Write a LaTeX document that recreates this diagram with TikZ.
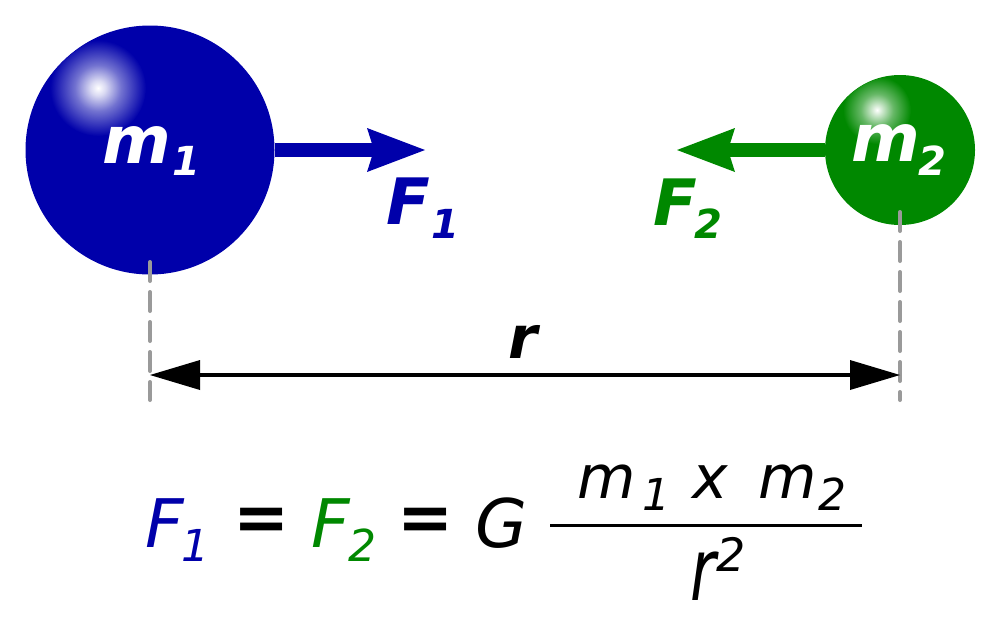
\documentclass[tikz,border=0pt]{standalone}
\usepackage{fontspec}
\setmainfont{DejaVu Sans}
\usetikzlibrary{arrows.meta}

\definecolor{massone}{HTML}{0000AA}
\definecolor{masstwo}{HTML}{008800}
\definecolor{guidegray}{HTML}{9A9A9A}
\pgfdeclareradialshading{glowone}{\pgfpointorigin}{color(0bp)=(white); color(4bp)=(white!85!massone); color(12bp)=(white!45!massone); color(25bp)=(massone); color(50bp)=(massone)}
\pgfdeclareradialshading{glowtwo}{\pgfpointorigin}{color(0bp)=(white); color(4bp)=(white!80!masstwo); color(12bp)=(white!40!masstwo); color(25bp)=(masstwo); color(50bp)=(masstwo)}

\tikzset{
    ball/.style={circle, inner sep=0pt, fill=#1},
    bold/.style={inner sep=0pt, anchor=base, font=\fontsize{#1}{#1}\selectfont\bfseries\itshape},
    slant/.style={inner sep=0pt, anchor=base, font=\fontsize{#1}{#1}\selectfont\itshape},
    equals/.style={inner sep=0pt, font=\fontsize{67}{67}\selectfont\bfseries},
    force/.style={line width=14pt, -{Stealth[length=58pt, width=44pt, inset=7pt, line width=0pt]}},
    spanline/.style={line width=4.5pt, {Triangle[length=50pt, width=30pt, line width=0pt]}-{Triangle[length=50pt, width=30pt, line width=0pt]}},
    guide/.style={guidegray, line width=4pt, line cap=round, dash pattern=on 19pt off 11pt},
}

\begin{document}
\begin{tikzpicture}[x=1pt, y=-1pt]
    \useasboundingbox (0,0) rectangle (1000,625);

    % the two masses
    \node[ball=massone, minimum size=249pt] (m1ball) at (150,150) {};
    \begin{scope}
        \clip (150,150) circle (124);
        \shade[shading=glowone] (98,88) circle (48);
    \end{scope}
    \node[ball=masstwo, minimum size=150pt] (m2ball) at (900,150) {};
    \begin{scope}
        \clip (900,150) circle (74.5);
        \shade[shading=glowtwo] (877,110) circle (34);
    \end{scope}

    \coordinate (f1tip) at (425,150);
    \coordinate (f2tip) at (677,150);
    \draw[force, massone] (m1ball.east) -- (f1tip);
    \draw[force, masstwo] (m2ball.west) -- (f2tip);

    \node[bold=66, white] (m1txt) at (137,163) {m};
    \node[bold=40, white] (m1sub) at (186,175) {1};
    \node[bold=66, white] (m2txt) at (886,161) {m};
    \node[bold=40, white] (m2sub) at (932,175) {2};

    \node[bold=64, massone] (f1txt) at (408,224) {F};
    \node[bold=40, massone] (f1sub) at (445,238) {1};
    \node[bold=64, masstwo] (f2txt) at (675,225) {F};
    \node[bold=40, masstwo] (f2sub) at (708,238) {2};

    % distance r
    \coordinate (g1a) at (150,262);
    \coordinate (g1b) at (150,400);
    \coordinate (g2a) at (900,212);
    \coordinate (g2b) at (900,400);
    \draw[guide] (g1a) -- (g1b);
    \draw[guide] (g2a) -- (g2b);
    \coordinate (rl) at (150,375);
    \coordinate (rr) at (900,375);
    \draw[spanline] (rl) -- (rr);
    \node[bold=59] (rtxt) at (523,358) {r};

    % F1 = F2 = G m1 x m2 / r^2
    \node[slant=67, massone] (ef1) at (165,547) {F};
    \node[slant=44, massone] (ef1sub) at (195,561) {1};
    \node[equals] (eq1) at (262,524) {=};
    \node[slant=67, masstwo] (ef2) at (331,547) {F};
    \node[slant=44, masstwo] (ef2sub) at (362,561) {2};
    \node[equals] (eq2) at (426,524) {=};
    \node[slant=67] (grav) at (501,547) {G};

    \node[slant=60] (num1) at (607,498) {m};
    \node[slant=44] (num1sub) at (656,510) {1};
    \node[slant=60] (times) at (710,498) {x};
    \node[slant=60] (num2) at (788,498) {m};
    \node[slant=44] (num2sub) at (832,510) {2};
    \coordinate (barl) at (550,525);
    \coordinate (barr) at (862,525);
    \draw[line width=3pt] (barl) -- (barr);
    \node[slant=62] (den) at (703,600) {\scalebox{1}[1.4]{r}};
    \node[slant=46] (densup) at (731,571) {2};
\end{tikzpicture}
\end{document}
